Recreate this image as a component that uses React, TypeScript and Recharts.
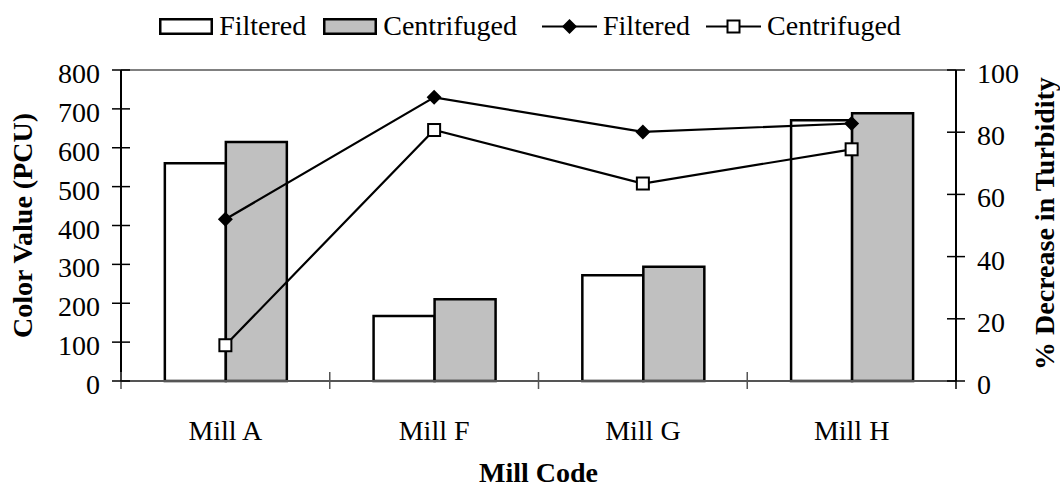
import { ComposedChart, Bar, Line, XAxis, YAxis, Legend, ReferenceLine } from "recharts";

const mills = ["Mill A", "Mill F", "Mill G", "Mill H"];
const colorFiltered = [560, 167, 272, 671];
const colorCentrifuged = [615, 210, 294, 689];
const turbidityFiltered = [52, 91.2, 80.1, 82.8];
const turbidityCentrifuged = [11.5, 80.7, 63.5, 74.5];

const colorTicks = [0, 100, 200, 300, 400, 500, 600, 700, 800];
const turbidityTicks = [0, 20, 40, 60, 80, 100];

const data = mills.map((mill, i) => ({
  mill,
  colorFiltered: colorFiltered[i],
  colorCentrifuged: colorCentrifuged[i],
  turbidityFiltered: turbidityFiltered[i],
  turbidityCentrifuged: turbidityCentrifuged[i],
}));

const FONT = "'Liberation Serif', 'Times New Roman', serif";
const GRAY = "#c0c0c0";
const TICK_FONT = 28;

function Diamond({ cx, cy }: any) {
  if (cx == null || cy == null) return null;
  const r = 7.5;
  return <path d={`M${cx},${cy - r}L${cx + r},${cy}L${cx},${cy + r}L${cx - r},${cy}Z`} fill="#000" />;
}

function Square({ cx, cy }: any) {
  if (cx == null || cy == null) return null;
  const s = 12;
  return <rect x={cx - s / 2} y={cy - s / 2} width={s} height={s} fill="#fff" stroke="#000" strokeWidth={2} />;
}

function LeftTick({ x, y, payload }: any) {
  return (
    <g>
      <line x1={x - 9} x2={x + 9} y1={y} y2={y} stroke="#000" strokeWidth={1.5} />
      <text x={x - 21} y={y + 13} textAnchor="end" fontFamily={FONT} fontSize={TICK_FONT} fill="#000">
        {payload.value}
      </text>
    </g>
  );
}

function RightTick({ x, y, payload }: any) {
  return (
    <g>
      <line x1={x - 9} x2={x + 9} y1={y} y2={y} stroke="#000" strokeWidth={1.5} />
      <text x={x + 21} y={y + 13} textAnchor="start" fontFamily={FONT} fontSize={TICK_FONT} fill="#000">
        {payload.value}
      </text>
    </g>
  );
}

function MillTick({ x, y, payload, visibleTicksCount }: any) {
  const half = payload.offset || 0;
  const isLast = payload.index === visibleTicksCount - 1;
  return (
    <g>
      <line x1={x - half} x2={x - half} y1={y - 9} y2={y + 8} stroke="#555" strokeWidth={1.5} />
      {isLast && <line x1={x + half} x2={x + half} y1={y - 9} y2={y + 8} stroke="#000" strokeWidth={1.5} />}
      <text x={x} y={y + 59} textAnchor="middle" fontFamily={FONT} fontSize={TICK_FONT} fill="#000">
        {payload.value}
      </text>
    </g>
  );
}

const legendItems = [
  { label: "Filtered", kind: "bar", fill: "#fff" },
  { label: "Centrifuged", kind: "bar", fill: GRAY },
  { label: "Filtered", kind: "diamond" },
  { label: "Centrifuged", kind: "square" },
];
const legendGaps = [17, 25, 16, 0];

function LegendIcon({ kind, fill }: any) {
  if (kind === "bar") {
    return (
      <svg width={54} height={17} style={{ marginRight: 6 }}>
        <rect x={1.25} y={1.25} width={51.5} height={14.5} fill={fill} stroke="#000" strokeWidth={2.5} />
      </svg>
    );
  }
  return (
    <svg width={55} height={17} style={{ marginRight: 6 }}>
      <line x1={0} x2={55} y1={8.5} y2={8.5} stroke="#000" strokeWidth={2.2} />
      {kind === "diamond" ? <Diamond cx={27.5} cy={8.5} /> : <Square cx={27.5} cy={8.5} />}
    </svg>
  );
}

function ChartLegend() {
  return (
    <div style={{ display: "flex", justifyContent: "center", alignItems: "center", fontFamily: FONT, fontSize: 28, color: "#000" }}>
      {legendItems.map((item, i) => (
        <div key={i} style={{ display: "flex", alignItems: "center", marginRight: legendGaps[i] }}>
          <LegendIcon kind={item.kind} fill={item.fill} />
          <span>{item.label}</span>
        </div>
      ))}
    </div>
  );
}

const titleStyle = { fontFamily: FONT, fontSize: 28, fontWeight: "bold", fill: "#000" };

export default function App() {
  return (
    <div style={{ position: "absolute", left: 0, top: 0, width: 1060, height: 487, background: "#fff" }}>
      <ComposedChart
        width={1060}
        height={487}
        data={data}
        margin={{ top: 70, right: 0, bottom: 0, left: 0 }}
        barGap={0}
        barCategoryGap="21%"
      >
        <XAxis
          dataKey="mill"
          height={106}
          stroke="#555"
          strokeWidth={2}
          tickLine={false}
          tickSize={0}
          tickMargin={0}
          tick={<MillTick />}
          interval={0}
          label={{ value: "Mill Code", position: "center", dy: 38, style: titleStyle }}
        />
        <YAxis
          yAxisId="left"
          width={121}
          domain={[0, 800]}
          ticks={colorTicks}
          stroke="#000"
          strokeWidth={2}
          tickLine={false}
          tickSize={0}
          tickMargin={0}
          tick={<LeftTick />}
          interval={0}
          label={{ value: "Color Value (PCU)", angle: -90, position: "center", dx: -38, style: titleStyle }}
        />
        <YAxis
          yAxisId="right"
          orientation="right"
          width={104}
          domain={[0, 100]}
          ticks={turbidityTicks}
          stroke="#000"
          strokeWidth={2}
          tickLine={false}
          tickSize={0}
          tickMargin={0}
          tick={<RightTick />}
          interval={0}
          label={{ value: "% Decrease in Turbidity", angle: -90, position: "center", dx: 36, dy: -2, style: titleStyle }}
        />
        <ReferenceLine yAxisId="left" y={800} stroke="#808080" strokeWidth={2} />
        <Legend
          verticalAlign="middle"
          align="center"
          layout="horizontal"
          wrapperStyle={{ top: 10, left: 0, width: 1060 }}
          content={() => <ChartLegend />}
        />
        <Bar yAxisId="left" dataKey="colorFiltered" name="Filtered" fill="#fff" stroke="#000" strokeWidth={2.5} isAnimationActive={false} />
        <Bar yAxisId="left" dataKey="colorCentrifuged" name="Centrifuged" fill={GRAY} stroke="#000" strokeWidth={2.5} isAnimationActive={false} />
        <Line
          yAxisId="right"
          type="linear"
          dataKey="turbidityFiltered"
          name="Filtered"
          stroke="#000"
          strokeWidth={2.2}
          dot={<Diamond />}
          activeDot={false}
          isAnimationActive={false}
        />
        <Line
          yAxisId="right"
          type="linear"
          dataKey="turbidityCentrifuged"
          name="Centrifuged"
          stroke="#000"
          strokeWidth={2.2}
          dot={<Square />}
          activeDot={false}
          isAnimationActive={false}
        />
      </ComposedChart>
    </div>
  );
}
